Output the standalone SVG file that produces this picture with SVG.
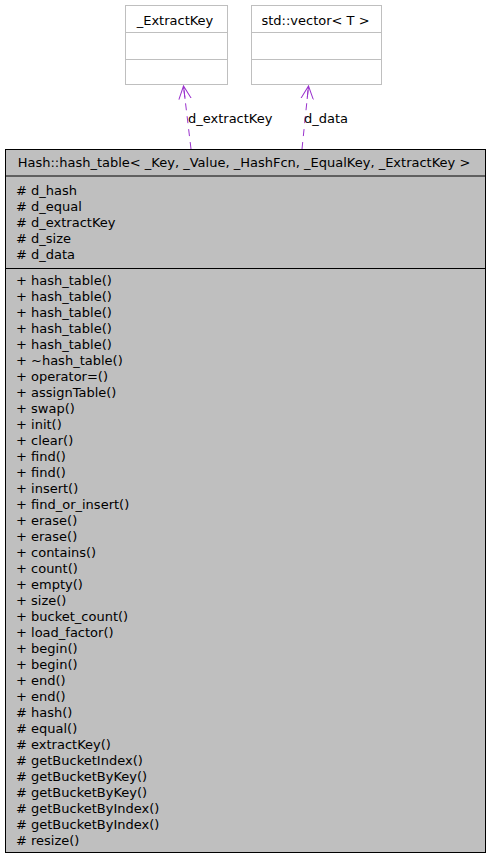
<svg xmlns="http://www.w3.org/2000/svg" width="490" height="858" viewBox="0 0 490 858">
<style>
text{font-family:"DejaVu Sans","Liberation Sans",sans-serif;font-size:13px;fill:#000}
.c{text-anchor:middle}
.m{}
.ext rect{fill:#fff;stroke:#bfbfbf;stroke-width:1}
.ext line{stroke:#bfbfbf;stroke-width:1}
.main rect{fill:#bfbfbf;stroke:#000;stroke-width:1}
.main line{stroke:#000;stroke-width:1}
.edge{stroke:#9a32cd;stroke-width:1;stroke-dasharray:7,6;fill:none}
</style>
<defs>
<marker id="vee" viewBox="0 0 14 14" refX="13" refY="7" markerWidth="14" markerHeight="14" markerUnits="userSpaceOnUse" orient="auto">
<path d="M0,0.8 L13,7 L0,13.2 M0,7 L13,7" fill="none" stroke="#9a32cd" stroke-width="1"/>
</marker>
</defs>
<g id="node-extractkey" class="ext">
<rect x="125.5" y="5.5" width="102" height="79"/>
<line x1="125.5" y1="32.5" x2="227.5" y2="32.5"/>
<line x1="125.5" y1="59.5" x2="227.5" y2="59.5"/>
<text class="c" x="175" y="25">_ExtractKey</text>
</g>
<g id="node-vector" class="ext">
<rect x="251.5" y="5.5" width="130" height="79"/>
<line x1="251.5" y1="32.5" x2="381.5" y2="32.5"/>
<line x1="251.5" y1="59.5" x2="381.5" y2="59.5"/>
<text class="c" x="315.5" y="25">std::vector&lt; T &gt;</text>
</g>
<g id="connectors">
<line class="edge" x1="191" y1="149" x2="183.5" y2="86" marker-end="url(#vee)"/>
<line class="edge" x1="302" y1="149" x2="308.5" y2="86" marker-end="url(#vee)"/>
<text x="188" y="122.5">d_extractKey</text>
<text x="304" y="122.5">d_data</text>
</g>
<g id="node-hash-table" class="main">
<rect x="5.5" y="149.5" width="480" height="703"/>
<line x1="5.5" y1="176" x2="485.5" y2="176"/>
<line x1="5.5" y1="268.5" x2="485.5" y2="268.5"/>
<text class="c" x="244" y="167.3">Hash::hash_table&lt; _Key, _Value, _HashFcn, _EqualKey, _ExtractKey &gt;</text>
<text x="16" y="194.5"># d_hash</text>
<text x="16" y="210.5"># d_equal</text>
<text x="16" y="226.5"># d_extractKey</text>
<text x="16" y="242.5"># d_size</text>
<text x="16" y="258.5"># d_data</text>
<text x="16" y="284.5">+ hash_table()</text>
<text x="16" y="300.5">+ hash_table()</text>
<text x="16" y="316.5">+ hash_table()</text>
<text x="16" y="332.5">+ hash_table()</text>
<text x="16" y="348.5">+ hash_table()</text>
<text x="16" y="364.5">+ ~hash_table()</text>
<text x="16" y="380.5">+ operator=()</text>
<text x="16" y="396.5">+ assignTable()</text>
<text x="16" y="412.5">+ swap()</text>
<text x="16" y="428.5">+ init()</text>
<text x="16" y="444.5">+ clear()</text>
<text x="16" y="460.5">+ find()</text>
<text x="16" y="476.5">+ find()</text>
<text x="16" y="492.5">+ insert()</text>
<text x="16" y="508.5">+ find_or_insert()</text>
<text x="16" y="524.5">+ erase()</text>
<text x="16" y="540.5">+ erase()</text>
<text x="16" y="556.5">+ contains()</text>
<text x="16" y="572.5">+ count()</text>
<text x="16" y="588.5">+ empty()</text>
<text x="16" y="604.5">+ size()</text>
<text x="16" y="620.5">+ bucket_count()</text>
<text x="16" y="636.5">+ load_factor()</text>
<text x="16" y="652.5">+ begin()</text>
<text x="16" y="668.5">+ begin()</text>
<text x="16" y="684.5">+ end()</text>
<text x="16" y="700.5">+ end()</text>
<text x="16" y="716.5"># hash()</text>
<text x="16" y="732.5"># equal()</text>
<text x="16" y="748.5"># extractKey()</text>
<text x="16" y="764.5"># getBucketIndex()</text>
<text x="16" y="780.5"># getBucketByKey()</text>
<text x="16" y="796.5"># getBucketByKey()</text>
<text x="16" y="812.5"># getBucketByIndex()</text>
<text x="16" y="828.5"># getBucketByIndex()</text>
<text x="16" y="844.5"># resize()</text>
</g>
</svg>
